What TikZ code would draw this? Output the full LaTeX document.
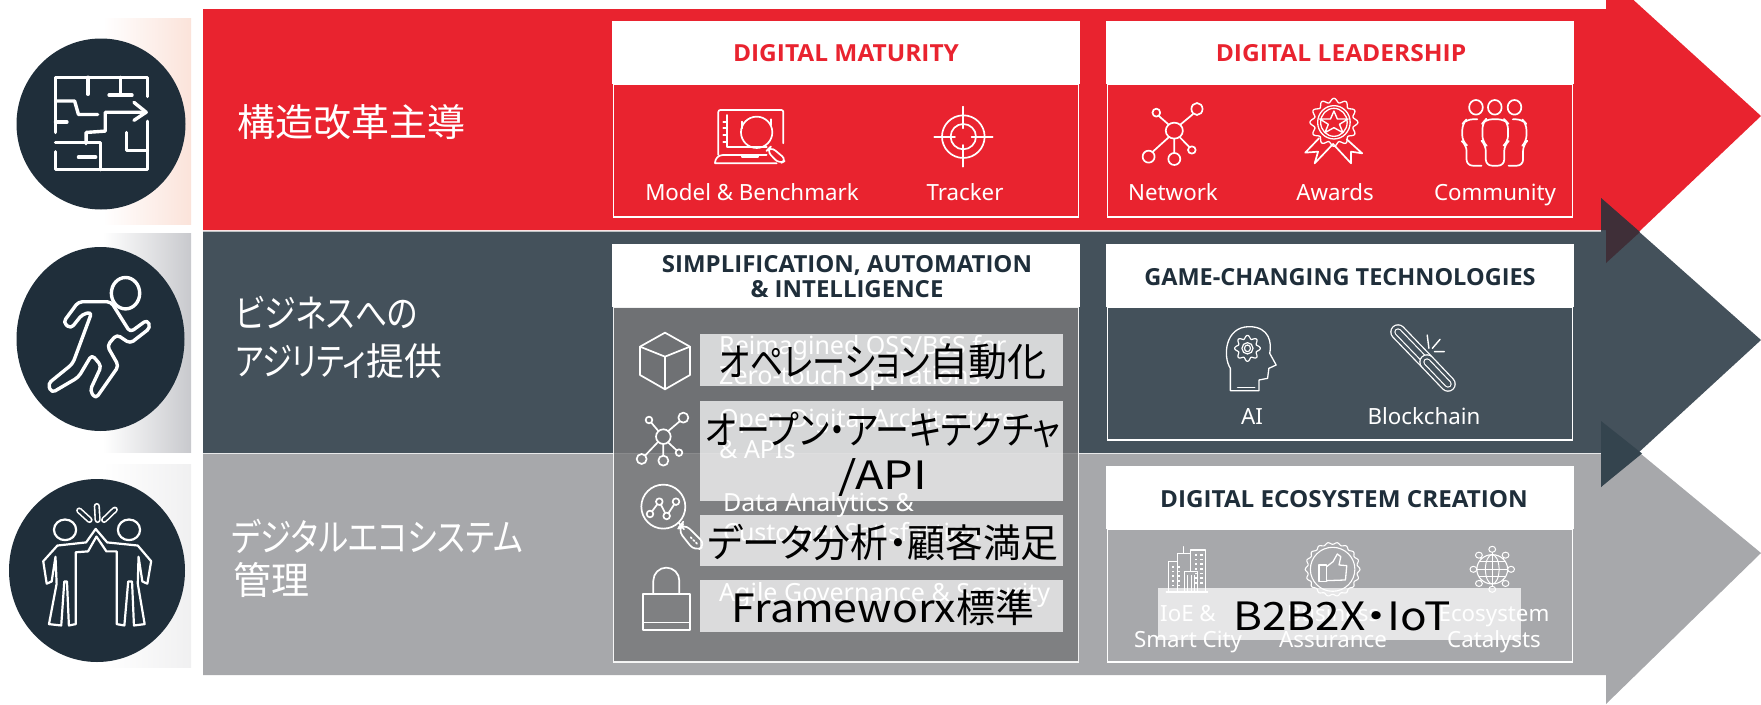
\documentclass[tikz,border=0pt]{standalone}
\usepackage{graphicx}
\usepackage{fontspec}
\setmainfont{Noto Sans}
\newfontfamily\hdf{Open Sans}
\newfontfamily\jpf[RawFeature=+palt]{Noto Sans CJK JP}
\usetikzlibrary{shadings}
\definecolor{brandred}{HTML}{E9232F}
\definecolor{slatec}{HTML}{44515B}
\definecolor{greyc}{HTML}{A7A8AB}
\definecolor{navyc}{HTML}{1F2E3A}
\definecolor{panelfill}{HTML}{78787A}
\definecolor{tintA}{HTML}{FBE3DA}
\definecolor{tintB}{HTML}{C8C9CD}
\definecolor{tintC}{HTML}{F0F0F1}
\definecolor{overA}{HTML}{3F2F38}
\definecolor{overB}{HTML}{34444E}
\newcommand{\ltxt}{\fontsize{22.3}{26}\selectfont}
\newcommand{\htxt}{\hdf\fontsize{23.5}{26}\selectfont\bfseries}
\newcommand{\wtxt}{\fontsize{25}{30}\selectfont}
\newcommand{\jpB}{\jpf\fontsize{39}{44}\selectfont}
\newcommand{\nk}[2]{\scalebox{#1}[1]{#2}}
% macro: panel with white header and framed body
\newcommand{\panelbox}[4]{%
  \fill[white] (#1,#2) rectangle (#1+468,#3);
  \draw[white,line width=1.5pt] (#1+1.5,#3) rectangle (#1+466.5,#4);
}
\tikzset{
  icon/.style={draw=white,line width=1.7pt,line join=round,line cap=round},
  bigicon/.style={draw=white,line width=3.4pt,line join=round,line cap=round},
  strip/.style={fill=white,fill opacity=.72},
  lbl/.style={text=white,font=\ltxt,align=center,inner sep=0pt,text height=16pt,text depth=0pt},
  wlbl/.style={text=white,font=\wtxt,anchor=west,inner sep=0pt,text height=18pt,text depth=0pt},
  head/.style={font=\htxt,align=center,inner sep=0pt,text height=16pt,text depth=0pt},
  blk/.style={text=black,font=\jpB,inner sep=0pt},
  side/.style={text=white,font=\jpf\fontsize{38}{42}\selectfont,anchor=west,inner sep=0pt},
}
\begin{document}
\begin{tikzpicture}[x=1pt,y=-1pt]
\useasboundingbox (0,0) rectangle (1761,704);
\begin{scope}
\clip (0,0) rectangle (1761,704);
% side tints
\shade[left color=white,right color=tintA] (103,18) rectangle (191,224.5);
\shade[left color=white,right color=tintB] (103,233) rectangle (191,452);
\shade[left color=white,right color=tintC] (103,464) rectangle (191,667);
% arrows
\fill[brandred] (203,9) -- (1606,9) -- (1606,-25) -- (1761,116) -- (1606,263) -- (1606,230) -- (203,230) -- cycle;
\fill[greyc] (203,454) -- (1601,454) -- (1601,421) -- (1761,553) -- (1606,704) -- (1606,675) -- (203,675) -- cycle;
\fill[slatec] (203,231.5) -- (1601,231.5) -- (1601,198) -- (1761,340) -- (1601,487) -- (1601,453) -- (203,453) -- cycle;
\fill[slatec] (1601,230) rectangle (1606,231.5);
\fill[overA] (1601,198) -- (1640,232) -- (1606,263) -- (1606,230) -- (1601,230) -- cycle;
\fill[overB] (1601,421) -- (1642,453.5) -- (1601,487) -- cycle;
\end{scope}
% circles
\fill[navyc] (101,124) circle [x radius=84.5,y radius=85.5];
\fill[navyc] (100.5,339) circle [x radius=84,y radius=92];
\fill[navyc] (97,570.5) circle [x radius=88,y radius=91.5];
% left icons
\begin{scope}[x=0.3827pt,y=-0.449pt]
\draw[bigicon] (145,295) -- (145,172) -- (385,172) -- (385,215);
\draw[bigicon] (385,270) -- (385,378) -- (145,378) -- (145,338);
\draw[bigicon] (230,172) -- (230,210);
\draw[bigicon] (315,172) -- (315,212) (285,212) -- (345,212);
\draw[bigicon] (145,225) -- (195,225) -- (205,255) -- (255,255);
\draw[bigicon] (225,320) -- (225,295) -- (275,292) -- (275,250) -- (380,250);
\draw[bigicon] (350,228) -- (382,250) -- (350,268);
\draw[bigicon] (145,272) -- (175,272);
\draw[bigicon] (145,318) -- (262,318) (262,318) -- (262,378) (205,350) -- (250,350);
\draw[bigicon] (330,295) -- (330,335) -- (385,335);
% runner
\draw[bigicon] (328,653) circle [x radius=37,y radius=35];
\draw[bigicon,rounded corners=4pt] (290,672) -- (205,672) -- (165,718) -- (185,732) -- (215,700) -- (240,695) -- (190,810) -- (125,855) -- (135,875) -- (205,840) -- (240,790) -- (265,815) -- (235,870) -- (250,888) -- (310,815) -- (280,770) -- (305,745) -- (340,765) -- (393,730) -- (385,712) -- (340,740) -- cycle;
% high five
\draw[icon,line width=2.2pt] (170,1180) circle [x radius=29,y radius=23];
\draw[icon,line width=2.2pt] (337,1180) circle [x radius=29,y radius=23];
\draw[icon,line width=2.2pt] (250,1178) -- (225,1208) -- (150,1215) -- (113,1250) -- (122,1300) -- (135,1295) -- (145,1240) -- (148,1300) -- (128,1390) -- (160,1393) -- (168,1295) -- (175,1295) -- (180,1393) -- (198,1390) -- (198,1230) -- (230,1228) -- (252,1195) -- (278,1228) -- (305,1228) -- (305,1390) -- (325,1393) -- (335,1295) -- (345,1295) -- (350,1393) -- (378,1390) -- (360,1300) -- (362,1240) -- (372,1295) -- (385,1300) -- (395,1250) -- (360,1215) -- (280,1208) -- cycle;
\draw[white,line width=1.6pt,double=navyc,double distance=3pt,line cap=round] (207,1137) -- (234,1158);
\draw[white,line width=1.6pt,double=navyc,double distance=3pt,line cap=round] (253,1127) -- (255,1158);
\draw[white,line width=1.6pt,double=navyc,double distance=3pt,line cap=round] (300,1135) -- (272,1158);
\end{scope}
% panels
\panelbox{612}{21}{84}{217}
\panelbox{1106}{21}{84}{217}
\panelbox{1106}{243.5}{307}{440}
\panelbox{1106}{466}{529}{662}
% simplification panel
\fill[white] (612,244) rectangle (1080,307);
\fill[panelfill,fill opacity=.83] (613.5,307) rectangle (1078.5,662);
\draw[white,line width=1.5pt,draw opacity=.9] (613.5,307) rectangle (1078.5,662);
% titles
\node[head,text=brandred] (t1) at (846,53) {\nk{1.04}{DIGITAL MATURITY}};
\node[head,text=brandred] (t2) at (1341,53) {\nk{1.045}{DIGITAL LEADERSHIP}};
\node[head,text=navyc] (t3a) at (847,264) {\nk{1.02}{SIMPLIFICATION, AUTOMATION}};
\node[head,text=navyc] (t3b) at (847,289) {\nk{1.02}{\& INTELLIGENCE}};
\node[head,text=navyc] (t4) at (1340,277) {GAME-CHANGING TECHNOLOGIES};
\node[head,text=navyc] (t5) at (1344,499) {\nk{1.03}{DIGITAL ECOSYSTEM CREATION}};
% labels
\node[lbl] (l1) at (752,192) {Model \& Benchmark};
\node[lbl] (l2) at (965,192) {Tracker};
\node[lbl] (l3) at (1173,192) {Network};
\node[lbl] (l4) at (1335,192) {Awards};
\node[lbl] (l5) at (1495,192) {Community};
\node[lbl] (l6) at (1252,416) {AI};
\node[lbl] (l7) at (1424,416) {Blockchain};
% side text
\node[side] (s1) at (237,122) {構造改革主導};
\node[side] (s2a) at (235,313) {\nk{.84}{ビジネスへの}};
\node[side] (s2b) at (235,361) {\nk{.80}{アジリティ}提供};
\node[side] (s3a) at (231,536) {\nk{.83}{デジタルエコシステム}};
\node[side] (s3b) at (233,580) {管理};
% white text under the strips
\node[wlbl] (w1) at (719,345) {Reimagined OSS/BSS for};
\node[wlbl] (w2) at (719,375) {Zero-touch operations};
\node[wlbl] (w3) at (719,418) {Open Digital Architecture};
\node[wlbl] (w4) at (719,449) {\& APIs};
\node[wlbl] (w5) at (723,502) {Data Analytics \&};
\node[wlbl] (w6) at (723,532) {Customer Satisfaction};
\node[wlbl] (w7) at (719,592) {Agile Governance \& Security};
\node[lbl] (e1) at (1188,613) {IoE \&};
\node[lbl] (e2) at (1188,639) {Smart City};
\node[lbl] (e3) at (1333,613) {Business};
\node[lbl] (e4) at (1333,639) {Assurance};
\node[lbl] (e5) at (1494,613) {Ecosystem};
\node[lbl] (e6) at (1494,639) {Catalysts};
% icons of ecosystem panel (below strip)
\begin{scope}[shift={(1090,300)},x=0.4279pt,y=-0.3333pt]
\foreach \a/\b/\c/\d in {183/785/220/875,205/760/235/875,235/750/270/875,220/815/252/875}{
  \draw[icon,line width=1.1pt,fill=greyc] (\a,\b) rectangle (\c,\d);}
\draw[icon,line width=1.1pt] (218,760) -- (218,740);
\draw[icon,line width=1.1pt] (178,876) -- (275,876);
\foreach \xx in {192,206} \foreach \yy in {798,812,826,840,854}{\fill[white] (\xx,\yy) rectangle +(5,5);}
\foreach \xx in {245,258} \foreach \yy in {762,776,790,804,818,832,846}{\fill[white] (\xx,\yy) rectangle +(5,5);}
\foreach \xx in {228,236,244} {\draw[white,line width=.8pt] (\xx,825) -- (\xx,872);}
% badge
\draw[icon,line width=1.1pt] plot[variable=\t,samples=145,domain=0:360] ({567+(61+3*cos(18*\t))*cos(\t)},{808+(78+3*cos(18*\t))*sin(\t)}) -- cycle;
\draw[icon,line width=1.1pt] (567,808) circle [x radius=52,y radius=66];
\draw[icon,line width=1.3pt] (535,795) rectangle (553,845);
\draw[icon,line width=1.3pt] (553,800) -- (568,785) -- (578,762) -- (586,770) -- (582,795) -- (600,797) -- (597,840) -- (553,842);
% globe
\draw[icon,line width=1.1pt] (940,808) circle [x radius=36,y radius=44];
\draw[icon,line width=1pt] (940,808) circle [x radius=16,y radius=44];
\draw[icon,line width=1pt] (904,808) -- (976,808) (940,764) -- (940,852) (910,785) -- (970,785) (910,831) -- (970,831);
\foreach \ang in {0,45,...,315}{
  \draw[icon,line width=1pt] ({940+36*cos(\ang)},{808+44*sin(\ang)}) -- ({940+44*cos(\ang)},{808+58*sin(\ang)});
  \draw[icon,line width=1pt,fill=greyc] ({940+44*cos(\ang)},{808+60*sin(\ang)}) circle [x radius=8,y radius=9];
}
\end{scope}
% strips
\fill[strip] (700,334) rectangle (1063,386);
\fill[strip] (700,401) rectangle (1063,501);
\fill[strip] (700,515) rectangle (1063,566);
\fill[strip] (700,580) rectangle (1063,632);
\fill[strip] (1158,588) rectangle (1521,640);
% black text
\node[blk] (b1) at (883,362) {\nk{.85}{オペレーション}自動化};
\node[blk] (b2) at (883,430) {\nk{.87}{オープン・アーキテクチャ}};
\node[blk] (b3) at (883,478) {\nk{1.2}{/API}};
\node[blk] (b4) at (883,543) {\nk{.97}{データ分析・顧客満足}};
\node[blk] (b5) at (883,608) {\nk{1.1}{Frameworx}標準};
\node[blk] (b6) at (1342,616) {\nk{1.13}{B2B2X・IoT}};
% simplification icons
\begin{scope}[shift={(600,230)},x=0.3333pt,y=-0.3333pt]
\draw[icon] (195,308) -- (270,350) -- (270,435) -- (195,478) -- (120,435) -- (120,350) -- cycle;
\draw[icon] (120,350) -- (195,380) -- (270,350) (195,380) -- (195,478);
\draw[icon] (190,620) circle [radius=22];
\draw[icon] (147,570) circle [radius=10] (250,563) circle [radius=15] (125,687) circle [radius=15] (190,692) circle [radius=15] (237,668) circle [radius=10];
\draw[icon] (175,603) -- (154,578) (205,603) -- (239,574) (174,636) -- (136,676) (190,642) -- (190,677) (204,637) -- (229,660);
\draw[icon] (190,830) circle [radius=66];
\draw[icon] (150,852) -- (178,815) -- (200,858) -- (228,815);
\draw[icon,fill=panelfill] (150,852) circle [radius=10] (178,815) circle [radius=10] (200,858) circle [radius=10] (228,815) circle [radius=10];
\draw[icon] (236,878) -- (252,898) (250,875) -- (236,893);
\draw[icon,rounded corners=8pt] (252,880) -- (232,898) -- (285,965) -- (318,945) -- cycle;
\draw[icon,dotted] (272,922) -- (292,942);
\draw[icon] (160,1092) -- (160,1052) arc[start angle=180,end angle=360,radius=39] -- (238,1092);
\draw[icon] (130,1092) rectangle (270,1200);
\draw[icon] (130,1178) -- (270,1178);
\end{scope}
% maturity icons
\begin{scope}[shift={(600,0)},x=0.3333pt,y=-0.3333pt]
\draw[icon,rounded corners=2pt] (355,465) -- (355,330) -- (550,330) -- (550,430);
\draw[icon,rounded corners=8pt] (345,490) -- (345,465) -- (500,465) (530,490) -- (345,490);
\draw[icon] (425,465) -- (425,472) -- (475,472) -- (475,465);
\draw[icon] (380,345) -- (380,440) -- (500,440);
\foreach \yy in {365,385,405,425}{\draw[icon] (370,\yy) -- (380,\yy);}
\draw[icon] (470,397) circle [radius=47];
\draw[icon] (425,365) -- (425,385) (512,358) -- (512,375);
\draw[icon,rounded corners=6pt] (512,440) -- (500,452) -- (538,492) -- (560,480) -- cycle;
\draw[icon] (1090,410) circle [radius=64] (1090,410) circle [radius=38];
\draw[icon] (1003,410) -- (1065,410) (1115,410) -- (1178,410) (1090,320) -- (1090,385) (1090,435) -- (1090,500);
\end{scope}
% leadership icons
\begin{scope}[shift={(1090,0)},x=0.4279pt,y=-0.3333pt]
\draw[icon] (197,392) circle [x radius=20,y radius=24];
\draw[icon] (155,338) circle [x radius=9,y radius=12] (250,327) circle [x radius=13,y radius=18] (137,470) circle [x radius=14,y radius=18] (197,477) circle [x radius=14,y radius=18] (238,450) circle [x radius=9,y radius=11];
\draw[icon] (183,373) -- (161,348) (212,373) -- (241,342) (183,413) -- (146,456) (197,416) -- (197,459) (210,412) -- (232,441);
\draw[icon,line width=1.3pt] plot[variable=\t,samples=145,domain=0:360] ({570+(51+5*cos(12*\t))*cos(\t)},{367+(66+6*cos(12*\t))*sin(\t)}) -- cycle;
\draw[icon,line width=1.3pt] (570,367) circle [x radius=38,y radius=50] (570,367) circle [x radius=31,y radius=42];
\draw[icon,line width=1.4pt] (570,333) -- (578,357) -- (603,357) -- (583,373) -- (591,398) -- (570,383) -- (549,398) -- (557,373) -- (537,357) -- (562,357) -- cycle;
\draw[icon] (535,415) -- (503,458) -- (533,455) -- (525,490) -- (568,432) -- (610,490) -- (610,455) -- (636,460) -- (600,418);
\draw[icon] (902,322) circle [x radius=16,y radius=22] (946,322) circle [x radius=16,y radius=22] (992,322) circle [x radius=16,y radius=22];
\draw[icon,rounded corners=6pt] (925,497) -- (925,435) -- (917,425) -- (917,370) -- (925,358) -- (968,358) -- (977,370) -- (977,425) -- (968,435) -- (968,497) -- cycle;
\draw[icon,rounded corners=6pt] (905,358) -- (880,358) -- (870,372) -- (870,425) -- (880,435) -- (880,497) -- (915,497);
\draw[icon,rounded corners=6pt] (988,358) -- (1010,358) -- (1020,372) -- (1020,425) -- (1012,435) -- (1012,497) -- (978,497);
\end{scope}
% technology icons
\begin{scope}[shift={(1090,300)},x=0.4279pt,y=-0.3333pt]
\draw[icon,line width=1.3pt] (328,272) -- (328,205) .. controls (310,170) and (315,80) .. (372,80) .. controls (420,80) and (425,130) .. (420,160) -- (435,195) -- (418,205) -- (415,235) -- (395,240) -- (395,272) -- cycle;
\draw[icon,line width=1.3pt] (345,262) -- (385,262);
\draw[icon,line width=1.2pt] plot[variable=\t,samples=97,domain=0:360] ({368+(26+4*cos(8*\t))*cos(\t)},{145+(34+5*cos(8*\t))*sin(\t)}) -- cycle;
\draw[icon,line width=1.2pt] (368,145) circle [x radius=13,y radius=17] (368,145) circle [x radius=7,y radius=10];
\draw[icon,line width=1.4pt] (788,105) -- (792,145) (818,118) -- (800,145) (805,155) -- (828,155);
\end{scope}
\draw[white,line width=1.3pt,double=slatec,double distance=13pt,line cap=round] (1398,332) -- (1426,361);
\draw[white,line width=1.2pt,double=slatec,double distance=5pt,line cap=round] (1398,332) -- (1426,361);
\draw[white,line width=1.3pt,double=slatec,double distance=13pt,line cap=round] (1427,362) -- (1448,384);
\draw[white,line width=1.2pt,double=slatec,double distance=5pt,line cap=round] (1427,362) -- (1448,384);
\end{tikzpicture}
\end{document}
